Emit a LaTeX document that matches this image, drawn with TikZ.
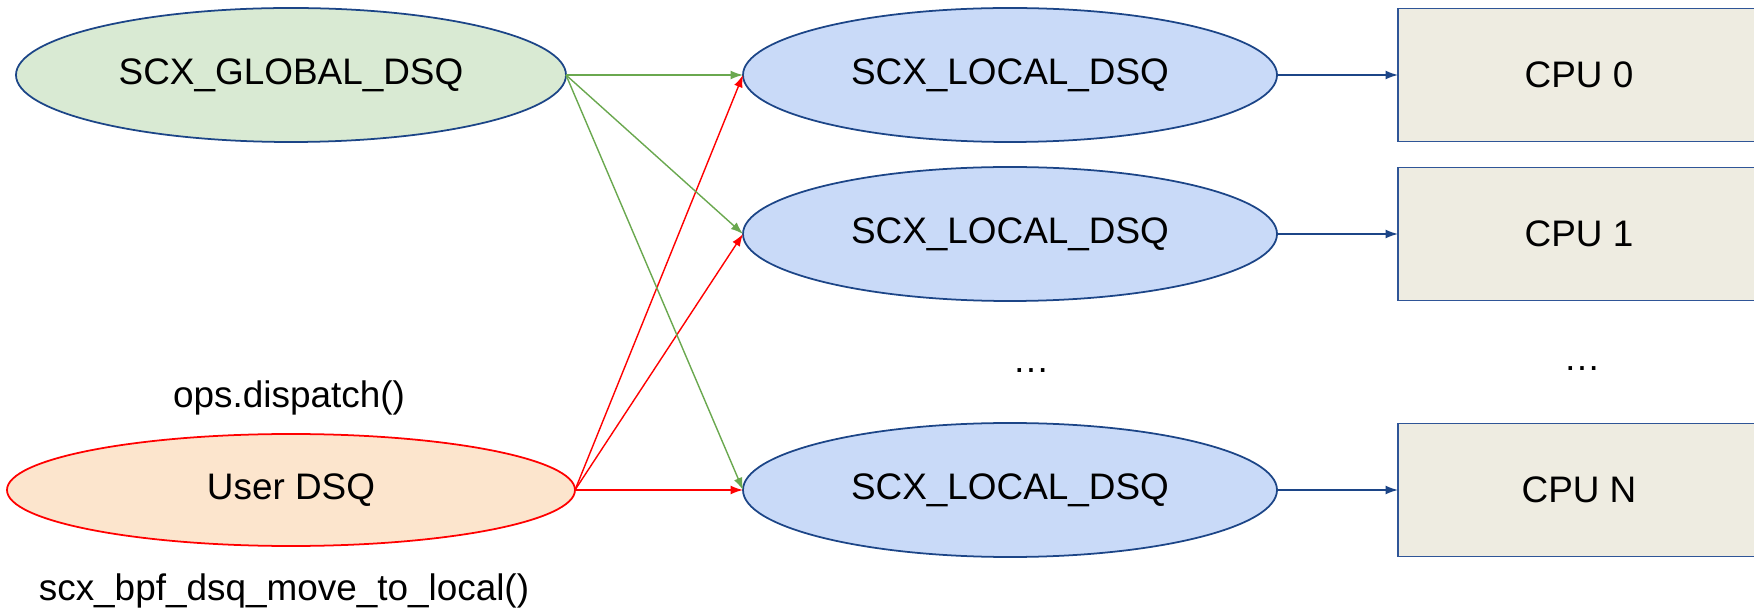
\documentclass[tikz,border=0pt]{standalone}
\usepackage{fontspec}
\setmainfont{Liberation Sans}
\usetikzlibrary{shapes.geometric,arrows.meta}
\definecolor{globalfill}{HTML}{D9EAD3}
\definecolor{localfill}{HTML}{C9DAF8}
\definecolor{userfill}{HTML}{FCE5CD}
\definecolor{cpufill}{HTML}{EEECE1}
\definecolor{dsqblue}{HTML}{1C4587}
\definecolor{cpublue}{HTML}{2F5597}
\definecolor{movegreen}{HTML}{6AA84F}
\tikzset{
  dsq/.style={ellipse, draw=dsqblue, line width=1pt, inner sep=0pt, outer sep=0pt,
    minimum width=10.68cm, minimum height=2.68cm},
  cpu/.style={rectangle, draw=cpublue, fill=cpufill, line width=1pt, inner sep=0pt,
    outer sep=0pt, minimum width=7.24cm, minimum height=2.66cm},
  link/.style={line width=0.8pt, -{Latex[length=7pt,width=5pt]}}
}

\begin{document}
\begin{tikzpicture}[font=\fontsize{21}{25}\selectfont]
  \useasboundingbox (0,0) rectangle (35.08,12.18);
  \node[dsq, fill=globalfill, minimum width=11cm] (global) at (5.82,10.68) {SCX\_GLOBAL\_DSQ};
  \node[dsq, draw=red, fill=userfill, minimum width=11.36cm, minimum height=2.24cm] (user) at (5.82,2.38) {User DSQ};
  \node (dispatch) at (5.78,4.22) {ops.dispatch()};
  \node (movelocal) at (5.68,0.36) {scx\_bpf\_dsq\_move\_to\_local()};
  % one local dsq and one cpu per row
  \foreach \y/\n/\cpuname in {10.68/0/0, 7.5/1/1, 2.38/2/N} {
    \node[dsq, fill=localfill] (local\n) at (20.2,\y) {SCX\_LOCAL\_DSQ};
    \node[cpu] (cpu\n) at (31.58,\y) {CPU \cpuname};
    \draw[link, draw=dsqblue] (local\n.east) -- (cpu\n.west);
  }
  \foreach \n in {0,1,2} {
    \draw[link, draw=red] (user.east) -- (local\n.west);
    \draw[link, draw=movegreen] (global.east) -- (local\n.west);
  }
  \node (localdots) at (20.62,4.76) {…};
  \node (cpudots) at (31.64,4.8) {…};
\end{tikzpicture}
\end{document}
